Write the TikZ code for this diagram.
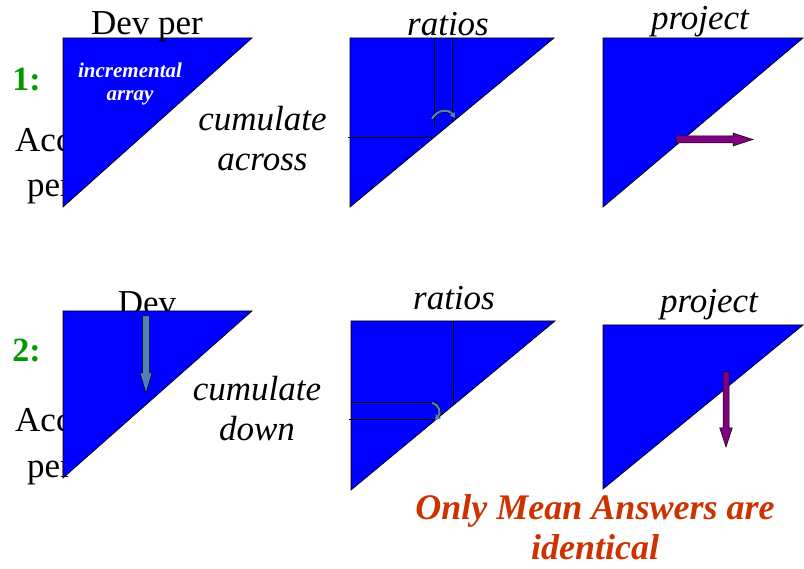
\documentclass[tikz,border=0pt]{standalone}
\usepackage{fontspec}
\setmainfont{Liberation Serif}
\usepackage{xcolor}
\usetikzlibrary{arrows.meta}

\definecolor{triblue}{RGB}{0,0,255}
\definecolor{stepgreen}{RGB}{0,153,0}
\definecolor{notered}{RGB}{204,51,0}
\definecolor{projpurple}{RGB}{128,0,128}
\definecolor{cumblue}{RGB}{80,128,180}

\begin{document}
\begin{tikzpicture}[
    x=1pt, y=-1pt,
    tri/.style={draw=black, fill=triblue, line width=0.7pt},
    gridline/.style={draw=black, line width=0.8pt},
    lbl/.style={inner sep=0pt, font=\fontsize{35}{40}\selectfont},
    itlbl/.style={inner sep=0pt, font=\fontsize{35}{40}\selectfont\itshape},
    verb/.style={inner sep=0pt, align=center, font=\fontsize{35}{40}\selectfont\itshape},
    num/.style={inner sep=0pt, text=stepgreen, font=\fontsize{34}{38}\selectfont\bfseries},
    blockarr/.style={draw=black, line width=0.5pt},
    curvarr/.style={draw=cumblue, line width=2.2pt, -{Triangle[length=5pt,width=6pt]}, preaction={draw=black, line width=3.2pt}}
]
\useasboundingbox (0,0) rectangle (804,569);

% Labels under the triangles
\node (acc1) [lbl, anchor=base west] at (15,152) {Acc};
\node (per1) [lbl, anchor=base west] at (27,197) {per};
\node (acc2) [lbl, anchor=base west] at (15,432) {Acc};
\node (per2) [lbl, anchor=base west] at (27,478) {per};
\node (dev2) [lbl, anchor=base] at (147,315) {Dev};

% Row 1
\draw [tri] (63,38) -- (252,38) -- (63,207) -- cycle;
\draw [tri] (350,38) -- (554,38) -- (350,207) -- cycle;
\draw [tri] (603,38) -- (803,38) -- (603,207) -- cycle;

\node (dev1) [lbl, anchor=base] at (147,35) {Dev per};
\node (one) [num, anchor=base] at (26.5,91) {1:};
\node (incr) [inner sep=0pt, align=center, text=white, font=\fontsize{21}{23}\selectfont\bfseries\itshape] at (130,83.6) {incremental\\array};
\node (across) [verb] at (262.5,138.5) {cumulate\\across};
\node (ratios1) [itlbl, anchor=base] at (448,36) {ratios};
\node (project1) [itlbl, anchor=base] at (700,30) {project};

\draw [gridline] (434,38) -- (434,127);
\draw [gridline] (452.7,38) -- (452.7,122);
\draw [gridline] (348,137.5) -- (434,137.5);
\draw [curvarr] (432,119) .. controls (437,109) and (449,109) .. (455,118);

\draw [blockarr, fill=projpurple] (676,136) -- (733,136) -- (733,133) -- (753,139.5) -- (733,146) -- (733,143) -- (676,143) -- cycle;

% Row 2
\draw [tri] (63,311) -- (252,311) -- (63,478) -- cycle;
\draw [tri] (351,321) -- (555,321) -- (351,490) -- cycle;
\draw [tri] (603,325) -- (803,325) -- (603,489) -- cycle;

\node (two) [num, anchor=base] at (26.5,362) {2:};
\node (down) [verb] at (257,408.5) {cumulate\\down};
\node (ratios2) [itlbl, anchor=base] at (454,310) {ratios};
\node (project2) [itlbl, anchor=base] at (709,313) {project};

\draw [blockarr, fill=cumblue] (142.5,316) -- (149.5,316) -- (149.5,373) -- (152,373) -- (146,393) -- (140,373) -- (142.5,373) -- cycle;

\draw [gridline] (453,321) -- (453,404);
\draw [gridline] (351,402) -- (438,402);
\draw [gridline] (349,419) -- (435,419);
\draw [curvarr] (432,403) .. controls (440,405) and (441,413) .. (435,420);

\draw [blockarr, fill=projpurple] (723,372) -- (729,372) -- (729,428) -- (732.3,428) -- (726,447) -- (719.7,428) -- (723,428) -- cycle;

% Note
\node (note) [inner sep=0pt, align=center, text=notered, font=\fontsize{36}{40}\selectfont\bfseries\itshape] at (595,527.5) {Only Mean Answers are\\identical};

\end{tikzpicture}
\end{document}
